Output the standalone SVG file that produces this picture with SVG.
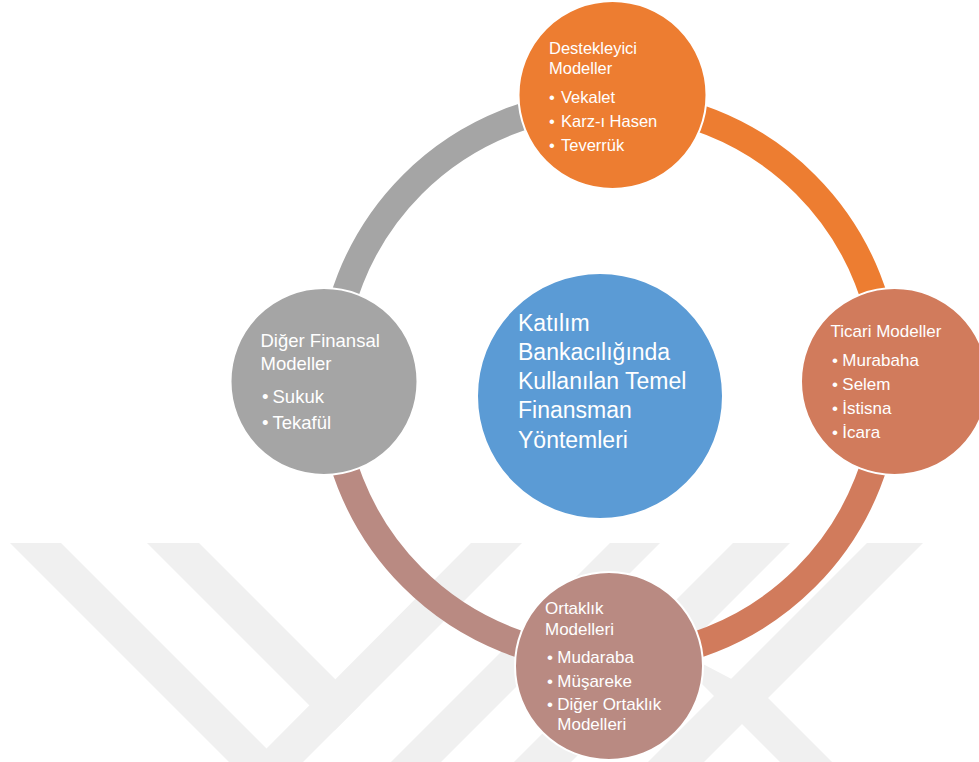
<svg xmlns="http://www.w3.org/2000/svg" width="979" height="762" viewBox="0 0 979 762">
<style>
.wm{fill:#f0f0f0}
.arc{fill:none;stroke-width:27;stroke-linecap:butt}
.node{stroke:#ffffff;stroke-width:2}
.t{font-family:"Liberation Sans",Arial,sans-serif;fill:#ffffff}
</style>
<rect width="979" height="762" fill="#ffffff"/>
<g id="watermark">
<polygon class="wm" points="10,543 61,543 280,762 229,762"/>
<polygon class="wm" points="147,543 199,543 360.5,704.5 334.5,730.5"/>
<polygon class="wm" points="471,543 522,543 303,762 253,762"/>
<polygon class="wm" points="610,543 660,543 441,762 391,762"/>
<polygon class="wm" points="733,543 790,543 571,762 514,762"/>
<polygon class="wm" points="867,543 923,543 704,762 648,762"/>
<polygon class="wm" points="659,641 768,698 832,762 780,762"/>
</g>
<g id="connectors">
<path class="arc" stroke="#A5A5A5" d="M331 381 A278 278 0 0 1 609 103"/>
<path class="arc" stroke="#ED7D31" d="M609 103 A278 278 0 0 1 887 381"/>
<path class="arc" stroke="#D17B5C" d="M887 381 A278 278 0 0 1 609 659"/>
<path class="arc" stroke="#B98A82" d="M609 659 A278 278 0 0 1 331 381"/>
</g>
<g id="center">
<circle class="node" cx="600" cy="396" r="123" fill="#5B9BD5"/>
<g class="t" font-size="23">
<text x="518" y="331">Katılım</text>
<text x="518" y="360">Bankacılığında</text>
<text x="518" y="389.3">Kullanılan Temel</text>
<text x="518" y="418.3">Finansman</text>
<text x="518" y="447.7">Yöntemleri</text>
</g>
</g>
<g id="node-top">
<circle class="node" cx="612.5" cy="95" r="94" fill="#ED7D31"/>
<g class="t" font-size="16.5">
<text x="549" y="54">Destekleyici</text>
<text x="549" y="74">Modeller</text>
<text x="549" y="102.7">•</text><text x="561" y="102.7">Vekalet</text>
<text x="549" y="126.7">•</text><text x="561" y="126.7">Karz-ı Hasen</text>
<text x="549" y="150.7">•</text><text x="561" y="150.7">Teverrük</text>
</g>
</g>
<g id="node-right">
<circle class="node" cx="894.5" cy="381.5" r="93.5" fill="#D17B5C"/>
<g class="t" font-size="17">
<text x="830.5" y="337">Ticari Modeller</text>
<text x="832" y="366">•</text><text x="842.3" y="366">Murabaha</text>
<text x="832" y="390">•</text><text x="842.3" y="390">Selem</text>
<text x="832" y="414">•</text><text x="842.3" y="414">İstisna</text>
<text x="832" y="437.5">•</text><text x="842.3" y="437.5">İcara</text>
</g>
</g>
<g id="node-bottom">
<circle class="node" cx="609" cy="666" r="94" fill="#B98A82"/>
<g class="t" font-size="17">
<text x="545" y="614">Ortaklık</text>
<text x="545" y="635">Modelleri</text>
<text x="547" y="662.5">•</text><text x="557.3" y="662.5">Mudaraba</text>
<text x="547" y="686.5">•</text><text x="557.3" y="686.5">Müşareke</text>
<text x="547" y="710">•</text><text x="557.3" y="710">Diğer Ortaklık</text>
<text x="557.3" y="730">Modelleri</text>
</g>
</g>
<g id="node-left">
<circle class="node" cx="324" cy="381.5" r="93.5" fill="#A5A5A5"/>
<g class="t" font-size="18.5">
<text x="260.5" y="346.5">Diğer Finansal</text>
<text x="260.5" y="370">Modeller</text>
<text x="262" y="403">•</text><text x="272.5" y="403">Sukuk</text>
<text x="262" y="429">•</text><text x="272.5" y="429">Tekafül</text>
</g>
</g>
</svg>
